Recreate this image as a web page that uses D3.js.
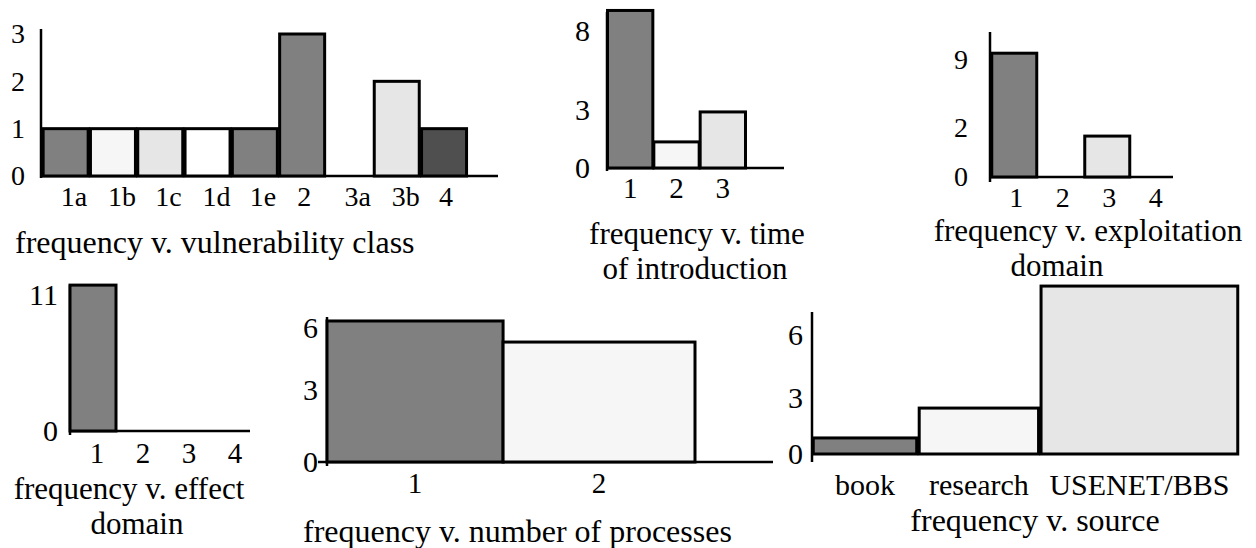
<!DOCTYPE html>
<html><head><meta charset="utf-8">
<script src="https://cdn.jsdelivr.net/npm/d3@7"></script>
<style>
body{margin:0;background:#fff}
svg{display:block}
text{font-family:"Liberation Serif","Times New Roman",serif;fill:#000}
</style>
</head><body>
<svg id="chart" width="1256" height="548"></svg>
<script>
// ---------------- DATA ----------------
const vulnClasses = ["1a","1b","1c","1d","1e","2","3a","3b","4"];
const vulnFreq    = [1,1,1,1,1,3,0,2,1];
const vulnTicks   = [0,1,2,3];

const introCats  = ["1","2","3"];
const introFreq  = [9.3,1.35,2.9];
const introTicks = [0,3,8];

const exploitCats  = ["1","2","3","4"];
const exploitFreq  = [9.7,0,1.67,0];
const exploitTicks = [0,2,9];

const effectCats  = ["1","2","3","4"];
const effectFreq  = [11.8,0,0,0];
const effectTicks = [0,11];

const procCats  = ["1","2"];
const procFreq  = [6.34,5.32];
const procTicks = [0,3,6];

const sourceCats  = ["book","research","USENET/BBS"];
const sourceFreq  = [0.86,2.46,8.33];
const sourceTicks = [0,3,6];

const titleVuln    = ["frequency v. vulnerability class"];
const titleIntro   = ["frequency v. time","of introduction"];
const titleExploit = ["frequency v. exploitation","domain"];
const titleEffect  = ["frequency v. effect","domain"];
const titleProc    = ["frequency v. number of processes"];
const titleSource  = ["frequency v. source"];

// ---------------- STYLE / LAYOUT ----------------
const DG="#808080", VL="#f6f6f6", LG="#e6e6e6", WH="#ffffff", DK="#4f4f4f";

const panels = [
  { cats:vulnClasses, vals:vulnFreq, ticks:vulnTicks, yDomain:[0,3], yRange:[176,34],
    fills:[DG,VL,LG,WH,DG,DG,LG,LG,DK],
    xRange:[42,467.7], gap:2.3, axisX:41, axisY:[29,178], base:[41,498],
    tickPad:16, tickFs:28, labFs:28, labY:206, labAnchor:"start", labDx:-5,
    title:titleVuln, titleFs:32, titleAnchor:"start", titleX:[15], titleY:[253] },
  { cats:introCats, vals:introFreq, ticks:introTicks, yDomain:introTicks, yRange:[168,110,31],
    fills:[DG,VL,LG],
    xRange:[607,746], gap:1, axisX:607, axisY:[12,171], base:[607,784],
    tickPad:17, tickFs:30, labFs:29, labY:198, labAnchor:"middle", labDx:0,
    title:titleIntro, titleFs:31, titleAnchor:"middle", titleX:[697,695], titleY:[244,279] },
  { cats:exploitCats, vals:exploitFreq, ticks:exploitTicks, yDomain:exploitTicks, yRange:[177,128,60],
    fills:[DG,DG,LG,LG],
    xRange:[991,1177], gap:1.5, axisX:990, axisY:[32,182], base:[990,1173],
    tickPad:22, tickFs:28, labFs:28, labY:207, labAnchor:"middle", labDx:2,
    title:titleExploit, titleFs:31, titleAnchor:"middle", titleX:[1088,1057], titleY:[241,276] },
  { cats:effectCats, vals:effectFreq, ticks:effectTicks, yDomain:effectTicks, yRange:[431,295],
    fills:[DG,DG,DG,DG],
    xRange:[70,254], gap:0, axisX:70, axisY:[285,435], base:[70,250],
    tickPad:12, tickFs:30, labFs:29, labY:463, labAnchor:"middle", labDx:4,
    title:titleEffect, titleFs:31, titleAnchor:"middle", titleX:[129,137], titleY:[499,534] },
  { cats:procCats, vals:procFreq, ticks:procTicks, yDomain:procTicks, yRange:[462,390,328],
    fills:[DG,VL], weights:[1,1.09],
    xRange:[327,695], gap:0, axisX:327, axisY:[317,466], base:[318,773],
    tickPad:9, tickFs:30, labFs:29, labY:493, labAnchor:"middle", labDx:0,
    title:titleProc, titleFs:32, titleAnchor:"start", titleX:[303], titleY:[542] },
  { cats:sourceCats, vals:sourceFreq, ticks:sourceTicks, yDomain:sourceTicks, yRange:[454,398,335],
    fills:[DG,VL,LG], weights:[1,1.15,1.88],
    xRange:[812,1239], gap:2.5, axisX:812, axisY:[312,462], base:null,
    tickPad:9, tickFs:30, labFs:30, labY:495, labAnchor:"middle", labDx:0,
    title:titleSource, titleFs:32, titleAnchor:"middle", titleX:[1035], titleY:[531] }
];

const svg = d3.select("#chart");
const FONT = '"Liberation Serif","Times New Roman",serif';

panels.forEach(p => {
  const g = svg.append("g");
  const y = d3.scaleLinear().domain(p.yDomain).range(p.yRange);
  const weights = p.weights || p.cats.map(() => 1);
  const cum = d3.cumsum([0, ...weights]);
  const x = d3.scaleLinear().domain([0, d3.sum(weights)]).range(p.xRange);

  const items = p.cats.map((c,i) => ({
    cat:c, v:p.vals[i], fill:p.fills[i],
    x0: x(cum[i]) + p.gap/2, x1: x(cum[i+1]) - p.gap/2, xc: x(cum[i] + weights[i]/2)
  }));

  if (p.base) {
    g.append("line").attr("x1",p.base[0]).attr("x2",p.base[1])
      .attr("y1",y(0)).attr("y2",y(0))
      .attr("stroke","#000").attr("stroke-width",2.5);
  }
  g.append("line").attr("x1",p.axisX).attr("x2",p.axisX)
    .attr("y1",p.axisY[0]).attr("y2",p.axisY[1])
    .attr("stroke","#000").attr("stroke-width",2.5);

  g.selectAll("rect.bar").data(items.filter(d => d.v > 0)).join("rect")
    .attr("class","bar")
    .attr("x", d => d.x0).attr("width", d => d.x1 - d.x0)
    .attr("y", d => y(d.v)).attr("height", d => y(0) - y(d.v))
    .attr("fill", d => d.fill).attr("stroke","#000").attr("stroke-width",3);

  g.append("g").attr("transform",`translate(${p.axisX},0)`)
    .call(d3.axisLeft(y).tickValues(p.ticks).tickSize(0).tickPadding(p.tickPad).tickFormat(d3.format("d")))
    .call(a => a.select(".domain").remove())
    .attr("font-size", p.tickFs).attr("font-family", FONT)
    .selectAll("text").attr("fill","#000");

  g.selectAll("text.xl").data(items).join("text")
    .attr("class","xl")
    .attr("x", d => d.xc + p.labDx).attr("y", p.labY)
    .attr("text-anchor", p.labAnchor).attr("font-size", p.labFs)
    .text(d => d.cat);

  const t = g.append("text").attr("class","tt")
    .attr("text-anchor", p.titleAnchor).attr("font-size", p.titleFs);
  t.selectAll("tspan").data(p.title).join("tspan")
    .attr("x", (d,i) => p.titleX[i]).attr("y", (d,i) => p.titleY[i])
    .text(d => d);
});
</script>
</body></html>
